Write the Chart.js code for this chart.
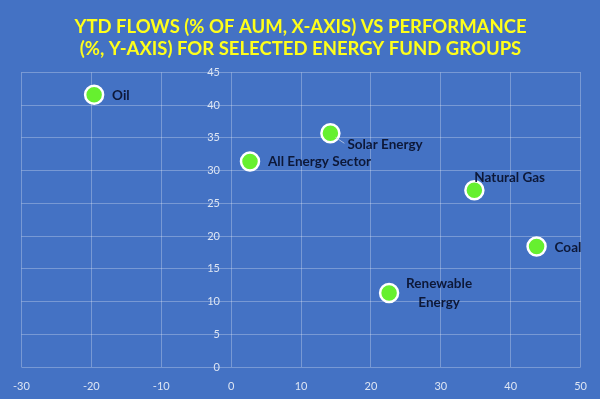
<!DOCTYPE html>
<html>
<head>
<meta charset="utf-8">
<script src="https://cdn.jsdelivr.net/npm/chart.js@4.4.1/dist/chart.umd.min.js"></script>
<style>
  html, body { margin: 0; padding: 0; background: #4472C4; }
  #wrap { width: 600px; height: 399px; position: relative; }
</style>
</head>
<body>
<div id="wrap"><canvas id="c" width="600" height="399"></canvas></div>
<script>
// ---- Data ----
const categories = ['Oil', 'All Energy Sector', 'Solar Energy', 'Natural Gas', 'Coal', 'Renewable Energy'];
const flows = [-19.6, 2.7, 14.2, 34.8, 43.7, 22.6];          // x: YTD flows (% of AUM)
const performance = [41.6, 31.4, 35.7, 27.0, 18.4, 11.3];    // y: performance (%)
const xTickValues = [-30, -20, -10, 0, 10, 20, 30, 40, 50];
const yTickValues = [0, 5, 10, 15, 20, 25, 30, 35, 40, 45];
const titleLines = ['YTD FLOWS (% OF AUM, X-AXIS) VS PERFORMANCE', '(%, Y-AXIS) FOR SELECTED ENERGY FUND GROUPS'];

// ---- Label placement (style only) ----
const labelPlacement = [
  { dx: 18, dy: 1, align: 'left' },
  { dx: 18, dy: 0, align: 'left' },
  { dx: 17, dy: 11, align: 'left', leader: true },
  { dx: 0, dy: -13, align: 'left' },
  { dx: 18, dy: 1, align: 'left' },
  { dx: 50, dy: 0, align: 'center', split: true }
];

const points = categories.map((c, i) => ({ x: flows[i], y: performance[i] }));

const labelPlugin = {
  id: 'pointLabels',
  afterDatasetsDraw(chart) {
    const ctx = chart.ctx;
    const meta = chart.getDatasetMeta(0);
    ctx.save();
    ctx.font = 'bold 13.5px Lato, "Liberation Sans", sans-serif';
    ctx.fillStyle = '#0d1838';
    ctx.textBaseline = 'middle';
    meta.data.forEach((el, i) => {
      const p = labelPlacement[i];
      const tx = el.x + p.dx, ty = el.y + p.dy;
      ctx.textAlign = p.align;
      if (p.leader) {
        ctx.strokeStyle = 'rgba(200,210,230,0.8)';
        ctx.lineWidth = 1;
        ctx.beginPath();
        ctx.moveTo(el.x + 5, el.y + 4);
        ctx.lineTo(tx - 3, ty - 1);
        ctx.stroke();
      }
      if (p.split) {
        const words = categories[i].split(' ');
        ctx.fillText(words[0], tx, ty - 9);
        ctx.fillText(words.slice(1).join(' '), tx, ty + 10);
      } else {
        ctx.fillText(categories[i], tx, ty);
      }
    });
    ctx.restore();
  }
};

const gridColor = 'rgba(255,255,255,0.28)';
const tickColor = '#dde5f3';
const fontFamily = 'Lato, "Liberation Sans", sans-serif';

new Chart(document.getElementById('c'), {
  type: 'scatter',
  data: {
    datasets: [{
      data: points,
      backgroundColor: '#66F02F',
      borderColor: '#ffffff',
      borderWidth: 2.5,
      pointRadius: 9,
      pointHoverRadius: 9
    }]
  },
  options: {
    responsive: false,
    animation: false,
    devicePixelRatio: 1,
    layout: { padding: { left: 14, right: 13, top: 0, bottom: 0 } },
    plugins: {
      legend: { display: false },
      tooltip: { enabled: false },
      title: {
        display: true,
        text: titleLines,
        color: '#FFFF1A',
        font: { family: fontFamily, size: 18.5, weight: 'bold', lineHeight: 1.2 },
        padding: { top: 16, bottom: 12 }
      }
    },
    scales: {
      x: {
        type: 'linear',
        min: -30, max: 50,
        afterBuildTicks(scale) { scale.ticks = xTickValues.map(v => ({ value: v })); },
        afterFit(scale) { scale.height = 32; },
        grid: { color: gridColor, drawTicks: false, lineWidth: 1 },
        border: { display: false },
        ticks: { color: tickColor, font: { family: fontFamily, size: 11 }, padding: 13 }
      },
      y: {
        type: 'linear',
        position: { x: -1.6 },
        min: 0, max: 45,
        afterBuildTicks(scale) { scale.ticks = yTickValues.map(v => ({ value: v })); },
        grid: { color: gridColor, drawTicks: false, lineWidth: 1 },
        border: { display: false },
        ticks: { color: tickColor, font: { family: fontFamily, size: 11 } }
      }
    }
  },
  plugins: [labelPlugin]
});
</script>
</body>
</html>
